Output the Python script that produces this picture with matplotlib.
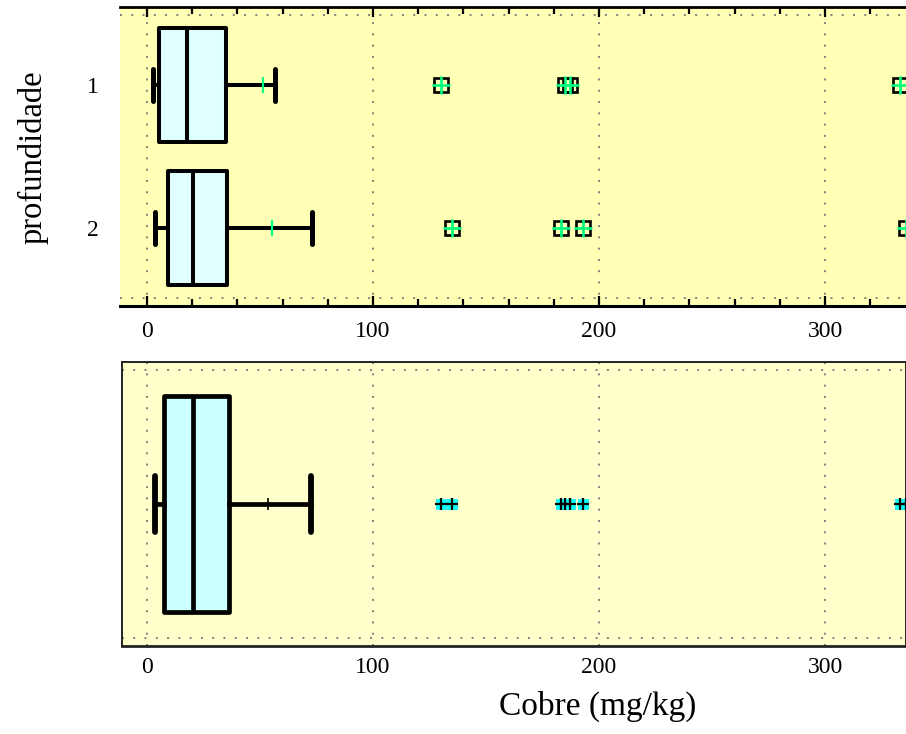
import matplotlib
matplotlib.use("Agg")
import matplotlib.pyplot as plt
import numpy as np

# ---------------- data ----------------
groups = ["1", "2"]
group_pos = [1, 2]
q1 = [5.3, 9.3]
median = [17.7, 20.4]
q3 = [35.0, 35.4]
whis_lo = [2.7, 3.5]
whis_hi = [56.6, 73.0]
means = [51.3, 55.3]
outliers_g1 = [130, 185, 187, 333]
outliers_g2 = [135, 183, 193, 336]

all_q1 = 7.5
all_median = 20.4
all_q3 = 36.3
all_whis_lo = 3.5
all_whis_hi = 72.6
all_mean = 53.5
all_outliers = outliers_g1 + outliers_g2

x_ticks = [0, 100, 200, 300]
x_label = "Cobre (mg/kg)"
y_label = "profundidade"

# ---------------- style ----------------
plt.rcParams["font.family"] = ["Liberation Serif", "DejaVu Serif"]
W, H = 906, 734
fig = plt.figure(figsize=(W / 100, H / 100), dpi=100)

def px_axes(l, t, r, b):
    return [l / W, 1 - b / H, (r - l) / W, (b - t) / H]

grid_kw = dict(color="#808080", lw=1.4, ls=(0, (1, 4.8)), zorder=0.5)

# ---------------- top panel ----------------
ax1 = fig.add_axes(px_axes(120, 7, 906, 306))
ax1.set_facecolor("#FFFFB5")
outs = [outliers_g1, outliers_g2]
stats = []
for i in range(len(groups)):
    stats.append(dict(label=groups[i], q1=q1[i], med=median[i], q3=q3[i],
                      whislo=whis_lo[i], whishi=whis_hi[i], mean=means[i],
                      fliers=np.array(outs[i])))
ax1.bxp(stats, positions=group_pos, orientation="horizontal", widths=0.8,
        capwidths=0.225, patch_artist=True, showmeans=True,
        boxprops=dict(facecolor="#E0FFFF", edgecolor="black", linewidth=2.9, joinstyle="round"),
        medianprops=dict(color="black", linewidth=2.9),
        whiskerprops=dict(color="black", linewidth=2.9),
        capprops=dict(color="black", linewidth=3.6, solid_capstyle="round"),
        meanprops=dict(marker="|", markeredgecolor="#00FF7F", markersize=11, markeredgewidth=1.6),
        flierprops=dict(marker="s", markerfacecolor="none", markeredgecolor="black",
                        markersize=10, markeredgewidth=1.9))
for i in range(len(groups)):
    ax1.plot(outs[i], [group_pos[i]] * len(outs[i]), ls="none", marker="+",
             color="#00FF7F", markersize=12.5, markeredgewidth=1.9, zorder=5)
ax1.set_xlim(-11.95, 335.8)
ax1.set_ylim(2.545, 0.4545)
for xv in x_ticks:
    ax1.axvline(xv, **grid_kw)
for yv in [0.51, 2.49]:
    ax1.axhline(yv, **grid_kw)
ax1.set_xticks(x_ticks)
ax1.set_xticks(np.arange(0, 340, 20), minor=True)
ax1.set_yticks(group_pos)
ax1.set_yticklabels(groups)
ax1.tick_params(axis="x", which="both", direction="in", top=True, bottom=True,
                width=1.6, color="black", labelsize=17, pad=11)
ax1.tick_params(axis="x", which="major", length=7)
ax1.tick_params(axis="x", which="minor", length=5)
ax1.tick_params(axis="y", length=0, labelsize=17, pad=15)
ax1.spines["left"].set_visible(False)
ax1.spines["right"].set_visible(False)
ax1.spines["top"].set_linewidth(2)
ax1.spines["bottom"].set_linewidth(2.2)

# ---------------- bottom panel ----------------
ax2 = fig.add_axes(px_axes(122, 362, 906, 646))
ax2.set_facecolor("#FFFFCC")
stats_all = [dict(label="", q1=all_q1, med=all_median, q3=all_q3,
                  whislo=all_whis_lo, whishi=all_whis_hi, mean=all_mean,
                  fliers=np.array(all_outliers))]
ax2.bxp(stats_all, positions=[0.5], orientation="horizontal", widths=0.76,
        capwidths=0.2, patch_artist=True, showmeans=True,
        boxprops=dict(facecolor="#CCFFFF", edgecolor="black", linewidth=3.4, joinstyle="round"),
        medianprops=dict(color="black", linewidth=3.4),
        whiskerprops=dict(color="black", linewidth=3.4),
        capprops=dict(color="black", linewidth=4.2, solid_capstyle="round"),
        meanprops=dict(marker="|", markeredgecolor="black", markersize=9, markeredgewidth=1.2),
        flierprops=dict(marker="s", markerfacecolor="#00FFFF", markeredgecolor="#33EEEE",
                        markersize=7, markeredgewidth=0.8))
ax2.plot(all_outliers, [0.5] * len(all_outliers), ls="none", marker="+",
         color="black", markersize=9, markeredgewidth=1.6, zorder=5)
ax2.set_xlim(-11.06, 335.8)
ax2.set_ylim(1, 0)
for xv in x_ticks:
    ax2.axvline(xv, **grid_kw)
for yv in [0.028, 0.972]:
    ax2.axhline(yv, **grid_kw)
ax2.set_xticks(x_ticks)
ax2.set_yticks([])
ax2.tick_params(axis="x", length=0, labelsize=17, pad=8)
for s in ax2.spines.values():
    s.set_linewidth(1.4)
    s.set_color("#222222")
ax2.spines["bottom"].set_linewidth(2)

# ---------------- labels ----------------
fig.text(598 / W, 1 - 706 / H, x_label, ha="center", va="center", fontsize=24)
fig.text(33 / W, 1 - 157 / H, y_label, ha="center", va="center", rotation=90, fontsize=23.5)

fig.savefig("out.png", dpi=100)
